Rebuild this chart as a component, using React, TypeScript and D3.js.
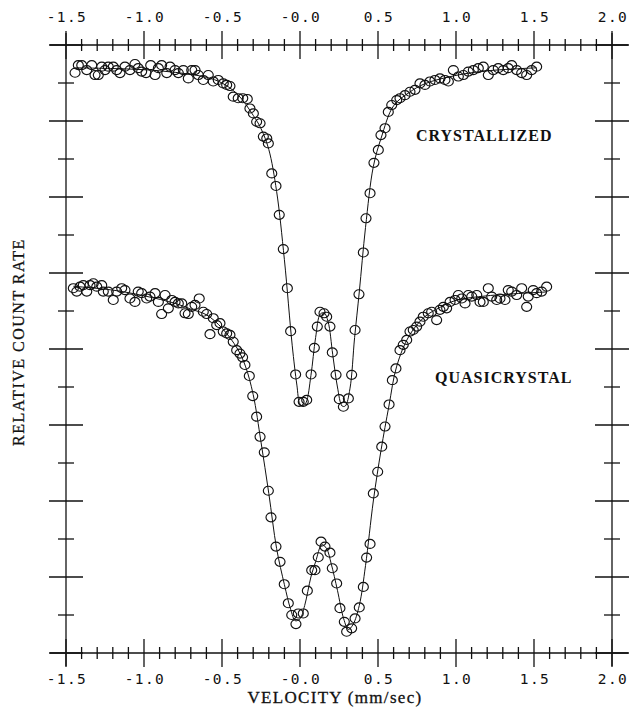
import { useEffect, useRef } from 'react';
import * as d3 from 'd3';

// Velocity axis (mm/sec), drawn on top and bottom
const velocityTicks = [-1.5, -1.0, -0.5, 0, 0.5, 1.0, 1.5, 2.0];
const velocityTickLabels = ['-1.5', '-1.0', '-0.5', '-0.0', '0.5', '1.0', '1.5', '2.0'];

// Relative count rate, in units of one left-axis tick (no labels on the original)
const countTicks = d3.range(0, 17);

// Measured points [velocity, relative count]
const crystallizedPoints: [number, number][] = [
  [-1.442, 15.27], [-1.421, 15.47], [-1.399, 15.47], [-1.367, 15.34], [-1.335, 15.47],
  [-1.314, 15.21], [-1.293, 15.21], [-1.271, 15.43], [-1.25, 15.34], [-1.229, 15.43],
  [-1.197, 15.43], [-1.175, 15.34], [-1.154, 15.26], [-1.122, 15.43], [-1.09, 15.34],
  [-1.058, 15.5], [-1.037, 15.39], [-1.015, 15.3], [-0.987, 15.26], [-0.957, 15.47],
  [-0.929, 15.21], [-0.908, 15.39], [-0.887, 15.47], [-0.854, 15.26], [-0.833, 15.43],
  [-0.801, 15.34], [-0.78, 15.26], [-0.748, 15.34], [-0.716, 15.12], [-0.694, 15.34],
  [-0.673, 15.34], [-0.652, 15.21], [-0.62, 15.08], [-0.588, 15.21], [-0.556, 15.04],
  [-0.524, 15.08], [-0.492, 14.99], [-0.47, 14.95], [-0.449, 14.92], [-0.428, 14.64],
  [-0.396, 14.6], [-0.367, 14.6], [-0.338, 14.58], [-0.321, 14.33], [-0.299, 14.2],
  [-0.278, 13.98], [-0.256, 13.94], [-0.235, 13.59], [-0.213, 13.54], [-0.203, 13.41],
  [-0.181, 12.62], [-0.154, 12.29], [-0.133, 11.53], [-0.107, 10.63], [-0.081, 9.6],
  [-0.06, 8.47], [-0.028, 7.33], [-0.006, 6.61], [0.021, 6.61], [0.043, 6.66],
  [0.071, 7.33], [0.092, 8.03], [0.111, 8.59], [0.128, 8.98], [0.154, 8.94],
  [0.171, 8.85], [0.192, 8.59], [0.207, 7.91], [0.231, 7.32], [0.252, 6.68],
  [0.278, 6.48], [0.31, 6.7], [0.331, 7.32], [0.353, 8.5], [0.378, 9.44],
  [0.406, 10.54], [0.423, 11.44], [0.449, 12.1], [0.474, 12.9], [0.502, 13.24],
  [0.519, 13.63], [0.545, 13.81], [0.566, 14.24], [0.588, 14.42], [0.62, 14.55],
  [0.641, 14.6], [0.673, 14.68], [0.705, 14.77], [0.737, 14.82], [0.769, 14.99],
  [0.801, 14.95], [0.833, 15.04], [0.865, 15.08], [0.897, 15.12], [0.929, 15.08],
  [0.951, 15.04], [0.983, 15.34], [1.015, 15.17], [1.047, 15.21], [1.079, 15.3],
  [1.111, 15.34], [1.143, 15.39], [1.175, 15.43], [1.207, 15.21], [1.239, 15.34],
  [1.271, 15.39], [1.303, 15.34], [1.335, 15.39], [1.357, 15.47], [1.389, 15.34],
  [1.421, 15.26], [1.453, 15.21], [1.485, 15.34], [1.517, 15.43],
];

const quasicrystalPoints: [number, number][] = [
  [-1.453, 9.6], [-1.431, 9.51], [-1.41, 9.64], [-1.389, 9.68], [-1.367, 9.51],
  [-1.346, 9.68], [-1.325, 9.73], [-1.303, 9.64], [-1.271, 9.68], [-1.261, 9.51],
  [-1.229, 9.51], [-1.197, 9.29], [-1.175, 9.51], [-1.143, 9.6], [-1.122, 9.55],
  [-1.09, 9.33], [-1.058, 9.24], [-1.037, 9.51], [-1.015, 9.47], [-0.983, 9.33],
  [-0.962, 9.38], [-0.929, 9.47], [-0.908, 9.24], [-0.887, 8.92], [-0.865, 9.42],
  [-0.844, 9.07], [-0.822, 9.29], [-0.801, 9.24], [-0.78, 9.2], [-0.758, 9.2],
  [-0.737, 8.94], [-0.716, 8.92], [-0.694, 9.11], [-0.673, 9.16], [-0.646, 9.33],
  [-0.62, 8.98], [-0.598, 8.92], [-0.577, 8.39], [-0.556, 8.81], [-0.534, 8.63],
  [-0.513, 8.68], [-0.492, 8.46], [-0.47, 8.41], [-0.449, 8.37], [-0.428, 8.19],
  [-0.406, 7.97], [-0.385, 7.88], [-0.368, 7.78], [-0.353, 7.58], [-0.325, 7.29],
  [-0.303, 6.76], [-0.278, 6.22], [-0.256, 5.69], [-0.229, 5.28], [-0.203, 4.27],
  [-0.186, 3.57], [-0.154, 2.8], [-0.128, 2.4], [-0.101, 1.81], [-0.075, 1.31],
  [-0.053, 1.0], [-0.026, 0.76], [-0.011, 1.04], [0.021, 1.04], [0.047, 1.64],
  [0.075, 2.18], [0.096, 2.18], [0.117, 2.52], [0.135, 2.93], [0.16, 2.8],
  [0.192, 2.64], [0.207, 2.23], [0.235, 1.83], [0.256, 1.18], [0.284, 0.82],
  [0.299, 0.56], [0.331, 0.65], [0.353, 0.91], [0.38, 1.2], [0.406, 1.74],
  [0.427, 2.51], [0.449, 2.87], [0.47, 4.2], [0.498, 4.77], [0.524, 5.43],
  [0.545, 5.96], [0.571, 6.54], [0.592, 7.18], [0.615, 7.49], [0.641, 7.97],
  [0.662, 8.11], [0.684, 8.24], [0.705, 8.46], [0.726, 8.5], [0.748, 8.59],
  [0.769, 8.72], [0.79, 8.85], [0.822, 8.94], [0.844, 8.98], [0.876, 8.76],
  [0.897, 9.03], [0.919, 9.11], [0.94, 9.07], [0.962, 9.24], [0.994, 9.29],
  [1.015, 9.42], [1.037, 9.33], [1.058, 9.2], [1.079, 9.42], [1.101, 9.38],
  [1.133, 9.42], [1.154, 9.24], [1.175, 9.24], [1.207, 9.6], [1.229, 9.38],
  [1.261, 9.29], [1.282, 9.33], [1.314, 9.29], [1.335, 9.55], [1.357, 9.51],
  [1.389, 9.42], [1.421, 9.6], [1.453, 9.11], [1.463, 9.38], [1.495, 9.55],
  [1.517, 9.47], [1.549, 9.51], [1.581, 9.64],
];

// Fitted curves [velocity, relative count]
const crystallizedFit: [number, number][] = [
  [-1.442, 15.4], [-1.2, 15.38], [-1.0, 15.35], [-0.8, 15.28], [-0.6, 15.15],
  [-0.5, 15.0], [-0.4, 14.7], [-0.3, 14.15], [-0.25, 13.8], [-0.2, 13.25],
  [-0.15, 12.15], [-0.1, 10.35], [-0.05, 8.1], [-0.02, 7.05], [0.0, 6.55],
  [0.02, 6.5], [0.04, 6.6], [0.07, 7.3], [0.1, 8.3], [0.13, 8.92],
  [0.155, 8.95], [0.18, 8.72], [0.21, 7.85], [0.24, 7.0], [0.27, 6.5],
  [0.29, 6.5], [0.32, 6.95], [0.35, 8.3], [0.38, 9.5], [0.42, 11.2],
  [0.47, 12.8], [0.52, 13.55], [0.6, 14.4], [0.7, 14.75], [0.8, 14.98],
  [1.0, 15.2], [1.2, 15.32], [1.517, 15.4],
];

const quasicrystalFit: [number, number][] = [
  [-1.453, 9.65], [-1.2, 9.55], [-1.0, 9.4], [-0.8, 9.2], [-0.7, 9.05],
  [-0.6, 8.9], [-0.5, 8.55], [-0.4, 8.0], [-0.35, 7.55], [-0.3, 6.8],
  [-0.25, 5.55], [-0.2, 4.2], [-0.15, 2.75], [-0.1, 1.8], [-0.06, 1.15],
  [-0.03, 0.85], [0.0, 0.9], [0.03, 1.25], [0.07, 2.0], [0.1, 2.4],
  [0.14, 2.85], [0.17, 2.75], [0.2, 2.35], [0.24, 1.65], [0.28, 0.9],
  [0.31, 0.62], [0.34, 0.75], [0.38, 1.25], [0.42, 2.3], [0.47, 4.0],
  [0.52, 5.35], [0.57, 6.5], [0.62, 7.55], [0.7, 8.35], [0.8, 8.85],
  [0.9, 9.1], [1.0, 9.28], [1.2, 9.4], [1.581, 9.5],
];

const W = 629;
const H = 708;

const MossbauerChart = () => {
  const chartRef = useRef<SVGSVGElement>(null);

  useEffect(() => {
    const svg = d3.select(chartRef.current);
    svg.selectAll('*').remove();

    const x = d3.scaleLinear().domain([-1.5, 2.0]).range([66, 612]);
    const y = d3.scaleLinear().domain([0, 16]).range([653, 45]);
    const [left, right] = x.range();
    const [bottom, top] = y.range();

    svg.append('rect').attr('width', W).attr('height', H).attr('fill', '#fff');

    const frame = svg.append('g').attr('stroke', '#111').attr('stroke-width', 1.3);

    // frame lines, overshooting like the plotter did
    frame.append('line').attr('x1', 50).attr('x2', 628).attr('y1', top).attr('y2', top);
    frame.append('line').attr('x1', 50).attr('x2', 628).attr('y1', bottom).attr('y2', bottom);
    frame.append('line').attr('x1', left).attr('x2', left).attr('y1', 33).attr('y2', 666);
    frame.append('line').attr('x1', right).attr('x2', right).attr('y1', 33).attr('y2', 666);

    // velocity ticks every 0.1, crossing the top and bottom axes
    const minor = d3.range(-15, 21).map((k) => k / 10);
    [top, bottom].forEach((yy) => {
      frame
        .selectAll(null)
        .data(minor)
        .enter()
        .append('line')
        .attr('x1', (d) => x(d))
        .attr('x2', (d) => x(d))
        .attr('y1', (d) => (Math.round(d * 10) % 5 === 0 ? yy - 14 : yy - 6))
        .attr('y2', (d) => (Math.round(d * 10) % 5 === 0 ? yy + 14 : yy + 6));
    });

    // count-rate ticks on both side axes
    [left, right].forEach((xx) => {
      frame
        .selectAll(null)
        .data(countTicks)
        .enter()
        .append('line')
        .attr('y1', (d) => y(d))
        .attr('y2', (d) => y(d))
        .attr('x1', (d) => (d % 2 === 0 ? xx - 17 : xx - 8))
        .attr('x2', (d) => (d % 2 === 0 ? xx + 17 : xx + 8));
    });

    // tick labels
    const tickFont = "'DejaVu Sans Mono', monospace";
    [22, 684].forEach((yy) => {
      svg
        .append('g')
        .selectAll('text')
        .data(velocityTicks)
        .enter()
        .append('text')
        .attr('x', (d) => x(d) + 1)
        .attr('y', yy)
        .attr('text-anchor', 'middle')
        .attr('font-family', tickFont)
        .attr('font-size', 14.5)
        .attr('letter-spacing', 1.4)
        .attr('fill', '#111')
        .text((d, i) => velocityTickLabels[i]);
    });

    const serif = "'Liberation Serif', 'Times New Roman', serif";

    svg
      .append('text')
      .attr('x', 335)
      .attr('y', 703)
      .attr('text-anchor', 'middle')
      .attr('font-family', serif)
      .attr('font-size', 17)
      .attr('letter-spacing', 1.3)
      .attr('stroke', '#111')
      .attr('stroke-width', 0.3)
      .attr('fill', '#111')
      .text('VELOCITY (mm/sec)');

    svg
      .append('text')
      .attr('transform', `translate(24,342) rotate(-90)`)
      .attr('text-anchor', 'middle')
      .attr('font-family', serif)
      .attr('font-size', 16)
      .attr('letter-spacing', 1.5)
      .attr('stroke', '#111')
      .attr('stroke-width', 0.3)
      .attr('fill', '#111')
      .text('RELATIVE COUNT RATE');

    // curve labels
    svg
      .append('text')
      .attr('x', 416)
      .attr('y', 141)
      .attr('font-family', serif)
      .attr('font-size', 16)
      .attr('font-weight', 'bold')
      .attr('letter-spacing', 1)
      .attr('fill', '#111')
      .text('CRYSTALLIZED');

    svg
      .append('text')
      .attr('x', 435)
      .attr('y', 383)
      .attr('font-family', serif)
      .attr('font-size', 16)
      .attr('font-weight', 'bold')
      .attr('letter-spacing', 1)
      .attr('fill', '#111')
      .text('QUASICRYSTAL');

    // fitted lines
    const line = d3
      .line<[number, number]>()
      .x((d) => x(d[0]))
      .y((d) => y(d[1]))
      .curve(d3.curveCatmullRom.alpha(0.5));

    [crystallizedFit, quasicrystalFit].forEach((fit) => {
      svg
        .append('path')
        .attr('d', line(fit))
        .attr('fill', 'none')
        .attr('stroke', '#111')
        .attr('stroke-width', 1);
    });

    // open circles for the measured points
    [crystallizedPoints, quasicrystalPoints].forEach((pts) => {
      svg
        .append('g')
        .selectAll('ellipse')
        .data(pts)
        .enter()
        .append('ellipse')
        .attr('cx', (d) => x(d[0]))
        .attr('cy', (d) => y(d[1]))
        .attr('rx', 5)
        .attr('ry', 4.5)
        .attr('fill', 'none')
        .attr('stroke', '#111')
        .attr('stroke-width', 1.15);
    });

    return () => {
      d3.select(chartRef.current).selectAll('*').remove();
    };
  }, []);

  return (
    <svg
      ref={chartRef}
      width={W}
      height={H}
      style={{ position: 'absolute', left: 0, top: 0, display: 'block' }}
    />
  );
};

export default function App() {
  return <MossbauerChart />;
}
